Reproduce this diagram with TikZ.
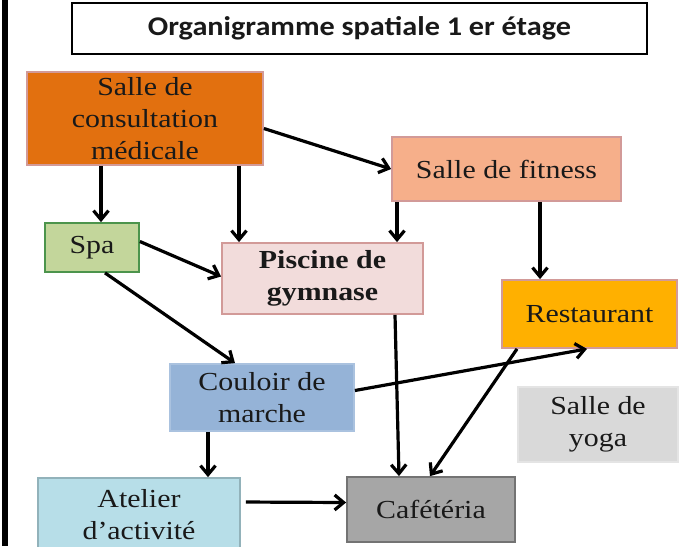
\documentclass[tikz,border=0pt]{standalone}
\usepackage{fontspec}
\usepackage{tikz}
\usetikzlibrary{positioning,arrows.meta,calc}
\newfontfamily\boxfont[FakeStretch=1.15]{Liberation Serif}
\newfontfamily\titlefont[FakeStretch=1.12]{Carlito}
\definecolor{consultfill}{HTML}{E2700F}
\definecolor{fitnessfill}{HTML}{F6AF8A}
\definecolor{spafill}{HTML}{C3D69B}
\definecolor{piscinefill}{HTML}{F2DCDB}
\definecolor{restofill}{HTML}{FFB000}
\definecolor{couloirfill}{HTML}{95B3D7}
\definecolor{yogafill}{HTML}{D9D9D9}
\definecolor{atelierfill}{HTML}{B7DEE8}
\definecolor{cafefill}{HTML}{A6A6A6}
\definecolor{pinkline}{HTML}{D29A98}

\begin{document}
\begin{tikzpicture}[
  x=1pt,y=-1pt,
  every node/.style={font=\boxfont\fontsize{26}{32}\selectfont,text=black!90,align=center},
  room/.style={draw=pinkline,line width=1.8pt,inner sep=0pt},
  link/.style={line width=3.2pt,-{Straight Barb[length=9pt,width=15pt,line width=3.2pt]}},
  titlebox/.style={draw,line width=2.6pt,minimum width=575,minimum height=51,
    font=\titlefont\bfseries\fontsize{27}{30}\selectfont}
]

% ==================================================
% cadre
% ==================================================
\useasboundingbox (0,0) rectangle (700,546);
\fill (2,0) rectangle (8,546);

\node[titlebox] (title) at (359.5,28.5) {Organigramme spatiale 1 er étage};

% ==================================================
% pièces
% ==================================================
\node[room,fill=consultfill,minimum width=236,minimum height=93]
  (consult) at (145,118.5) {Salle de\\consultation\\médicale};
\node[room,fill=fitnessfill,minimum width=229,minimum height=64]
  (fitness) at (506.5,169) {Salle de fitness};
\node[room,fill=spafill,draw=green!40!black!70,minimum width=94,minimum height=49]
  (spa) at (92,247.5) {Spa};
\node[room,fill=piscinefill,minimum width=201,minimum height=71]
  (piscine) at (322.5,278.5) {\bfseries Piscine de\\\bfseries gymnase};
\node[room,fill=restofill,minimum width=175,minimum height=68]
  (resto) at (589.5,314) {Restaurant};
\node[room,fill=couloirfill,draw=couloirfill!80!white,minimum width=184,minimum height=67]
  (couloir) at (262,397.5) {Couloir de\\marche};
\node[room,fill=yogafill,draw=yogafill!70!white,minimum width=160,minimum height=75]
  (yoga) at (598,424.5) {Salle de\\yoga};
\node[room,fill=atelierfill,draw=atelierfill!80!black,minimum width=202,minimum height=74]
  (atelier) at (139,515) {Atelier\\d’activité};
\node[room,fill=cafefill,draw=black!55,minimum width=168,minimum height=65]
  (cafe) at (431,509.5) {Cafétéria};

% ==================================================
% liaisons
% ==================================================
\draw[link] (consult.south -| 101,0) -- (101,0 |- spa.north);
\draw[link] (consult.south -| 239,0) -- (239,0 |- piscine.north);
\draw[link] ([yshift=-10pt]consult.east) -- (fitness.west);
\draw[link] (fitness.south -| 397,0) -- (397,0 |- piscine.north);
\draw[link] (fitness.south -| 540,0) -- (540,0 |- resto.north);
\draw[link] ([yshift=6pt]spa.east) -- ([yshift=2pt]piscine.west);
\draw[link] (spa.south -| 105,0) -- (235,0 |- couloir.north);
\draw[link] (piscine.south -| 395,0) -- (399,0 |- cafe.north);
\draw[link] (resto.south -| 517,0) -- (430,0 |- cafe.north);
\draw[link] ([yshift=7pt]couloir.east) -- (587,0 |- resto.south);
\draw[link] (couloir.south -| 208,0) -- (208,0 |- atelier.north);
\draw[link,shorten <=5pt] ([yshift=13pt]atelier.east) -- ([yshift=7pt]cafe.west);

\end{tikzpicture}
\end{document}
